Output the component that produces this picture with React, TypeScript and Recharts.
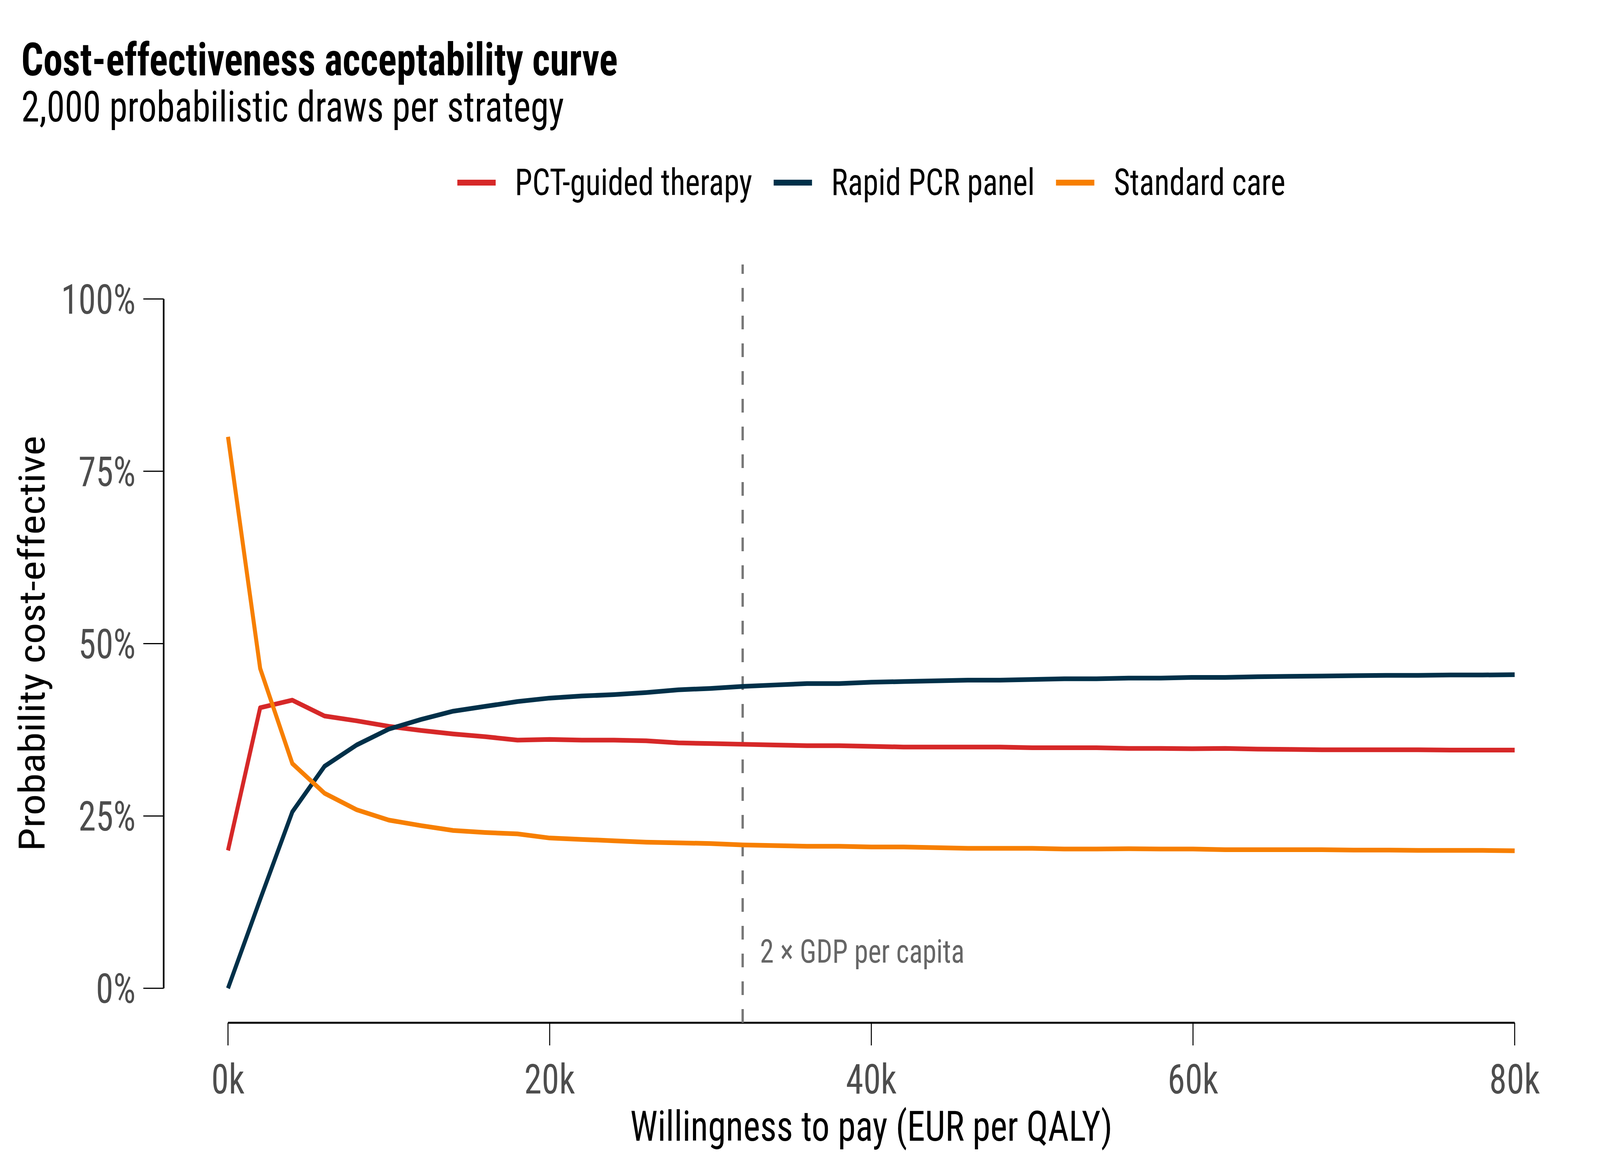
import React from 'react';
import { LineChart, Line, XAxis, YAxis, ReferenceLine, ReferenceDot } from 'recharts';

const wtp = [0, 2000, 4000, 6000, 8000, 10000, 12000, 14000, 16000, 18000, 20000, 22000, 24000, 26000, 28000, 30000, 32000, 34000, 36000, 38000, 40000, 42000, 44000, 46000, 48000, 50000, 52000, 54000, 56000, 58000, 60000, 62000, 64000, 66000, 68000, 70000, 72000, 74000, 76000, 78000, 80000];
const pctGuided = [20.0, 40.7, 41.8, 39.5, 38.8, 38.0, 37.4, 36.9, 36.5, 36.0, 36.1, 36.0, 36.0, 35.9, 35.6, 35.5, 35.4, 35.3, 35.2, 35.2, 35.1, 35.0, 35.0, 35.0, 35.0, 34.9, 34.9, 34.9, 34.8, 34.8, 34.75, 34.8, 34.7, 34.65, 34.6, 34.6, 34.6, 34.6, 34.55, 34.55, 34.55];
const rapidPcr = [0.0, 12.9, 25.6, 32.2, 35.3, 37.6, 39.0, 40.2, 40.9, 41.6, 42.1, 42.4, 42.6, 42.9, 43.3, 43.5, 43.8, 44.0, 44.2, 44.2, 44.4, 44.5, 44.6, 44.7, 44.7, 44.8, 44.9, 44.9, 45.0, 45.0, 45.1, 45.1, 45.2, 45.25, 45.3, 45.35, 45.4, 45.4, 45.45, 45.45, 45.5];
const standardCare = [80.0, 46.4, 32.6, 28.3, 25.9, 24.4, 23.6, 22.9, 22.6, 22.4, 21.8, 21.6, 21.4, 21.2, 21.1, 21.0, 20.8, 20.7, 20.6, 20.6, 20.5, 20.5, 20.4, 20.3, 20.3, 20.3, 20.2, 20.2, 20.25, 20.2, 20.2, 20.1, 20.1, 20.1, 20.1, 20.05, 20.05, 20.0, 20.0, 20.0, 19.95];

const seriesKeys = ['pct', 'pcr', 'sc'];
const seriesNames = ['PCT-guided therapy', 'Rapid PCR panel', 'Standard care'];
const seriesColors = ['#D62828', '#003049', '#F77F00'];
const seriesValues = [pctGuided, rapidPcr, standardCare];

const xTicks = [0, 20000, 40000, 60000, 80000];
const yTicks = [0, 25, 50, 75, 100];
const threshold = 32000;
const thresholdLabel = '2 × GDP per capita';

const titleText = 'Cost-effectiveness acceptability curve';
const subtitleText = '2,000 probabilistic draws per strategy';
const xTitle = 'Willingness to pay (EUR per QALY)';
const yTitle = 'Probability cost-effective';

const data = wtp.map((w, i) => {
  const row: Record<string, number> = { wtp: w };
  seriesKeys.forEach((k, s) => {
    row[k] = seriesValues[s][i];
  });
  return row;
});

const DESIGN_W = 4800;
const DESIGN_H = 3000;
const FONT = "'Roboto Condensed', Roboto, sans-serif";
const STRETCH = 'condensed';

const ThresholdLabel = (props: any) => {
  const vb = props.viewBox || {};
  const cx = (vb.x ?? 0) + (vb.width ?? 0) / 2;
  const cy = (vb.y ?? 0) + (vb.height ?? 0) / 2;
  return (
    <text x={cx + 52} y={cy} dominantBaseline="middle" fontSize={84} fill="#666666" fontFamily={FONT} style={{ fontStretch: STRETCH }}>
      {thresholdLabel}
    </text>
  );
};

export default function App() {
  const vw = typeof window !== 'undefined' ? window.innerWidth : DESIGN_W;
  const vh = typeof window !== 'undefined' ? window.innerHeight : DESIGN_H;
  const sx = Math.min(1, vw / DESIGN_W);
  const sy = Math.min(1, vh / DESIGN_H);
  return (
    <div style={{ position: 'absolute', left: 0, top: 0, width: DESIGN_W * sx, height: DESIGN_H * sy, overflow: 'hidden', background: '#fff' }}>
      <div style={{ position: 'absolute', left: 0, top: 0, width: DESIGN_W, height: DESIGN_H, transform: `scale(${sx}, ${sy})`, transformOrigin: '0 0', fontFamily: FONT, fontStretch: STRETCH }}>
        <LineChart width={DESIGN_W} height={DESIGN_H} data={data} margin={{ top: 677, right: 63, bottom: 82, left: 91 }}>
          <XAxis
            dataKey="wtp"
            type="number"
            domain={[-4000, 84000]}
            ticks={xTicks}
            tickFormatter={(v: number) => `${v / 1000}k`}
            axisLine={false}
            tickLine={{ stroke: '#000', strokeWidth: 3 }}
            tickSize={58}
            tickMargin={48}
            height={300}
            allowDataOverflow
            tick={{ fill: '#4D4D4D', fontSize: 106, fontFamily: FONT, style: { fontStretch: STRETCH } }}
          />
          <YAxis
            type="number"
            domain={[-5, 105]}
            ticks={yTicks}
            tickFormatter={(v: number) => `${v}%`}
            axisLine={false}
            tickLine={{ stroke: '#000', strokeWidth: 3 }}
            tickSize={61}
            tickMargin={23}
            width={400}
            allowDataOverflow
            tick={{ fill: '#4D4D4D', fontSize: 106, fontFamily: FONT, style: { fontStretch: STRETCH } }}
          />
          <ReferenceLine segment={[{ x: 0, y: -5 }, { x: 80000, y: -5 }]} stroke="#000" strokeWidth={5} ifOverflow="visible" />
          <ReferenceLine segment={[{ x: -4000, y: 0 }, { x: -4000, y: 100 }]} stroke="#000" strokeWidth={5} ifOverflow="visible" />
          <ReferenceLine x={threshold} stroke="#777777" strokeWidth={7} strokeDasharray="35 36" ifOverflow="visible" />
          <ReferenceDot x={threshold} y={5} r={0} fill="none" stroke="none" label={<ThresholdLabel />} ifOverflow="visible" />
          {seriesKeys.map((k, s) => (
            <Line
              key={k}
              dataKey={k}
              name={seriesNames[s]}
              type="linear"
              stroke={seriesColors[s]}
              strokeWidth={12}
              strokeLinejoin="round"
              strokeLinecap="butt"
              dot={false}
              activeDot={false}
              isAnimationActive={false}
            />
          ))}
        </LineChart>
        <svg width={DESIGN_W} height={DESIGN_H} style={{ position: 'absolute', left: 0, top: 0, pointerEvents: 'none' }} fontFamily={FONT}>
          <text x={64} y={193} fontSize={116} fontWeight={700} fill="#000" style={{ fontStretch: STRETCH }}>{titleText}</text>
          <text x={64} y={311} fontSize={110} fill="#000" style={{ fontStretch: STRETCH }}>{subtitleText}</text>
          <text x={0} y={0} transform="translate(134,1647) rotate(-90)" textAnchor="middle" fontSize={108} fill="#000" style={{ fontStretch: STRETCH }}>{yTitle}</text>
          <text x={2614} y={2920} textAnchor="middle" fontSize={108} fill="#000" style={{ fontStretch: STRETCH }}>{xTitle}</text>
        </svg>
        <div style={{ position: 'absolute', left: 491, width: 4246, top: 420, height: 94, display: 'flex', justifyContent: 'center', alignItems: 'center', gap: 64, pointerEvents: 'none' }}>
          {seriesNames.map((n, s) => (
            <div key={n} style={{ display: 'flex', alignItems: 'center', gap: 58 }}>
              <div style={{ width: 115, height: 15, background: seriesColors[s] }} />
              <span style={{ fontSize: 94, lineHeight: '94px', color: '#000', whiteSpace: 'nowrap' }}>{n}</span>
            </div>
          ))}
        </div>
      </div>
    </div>
  );
}
